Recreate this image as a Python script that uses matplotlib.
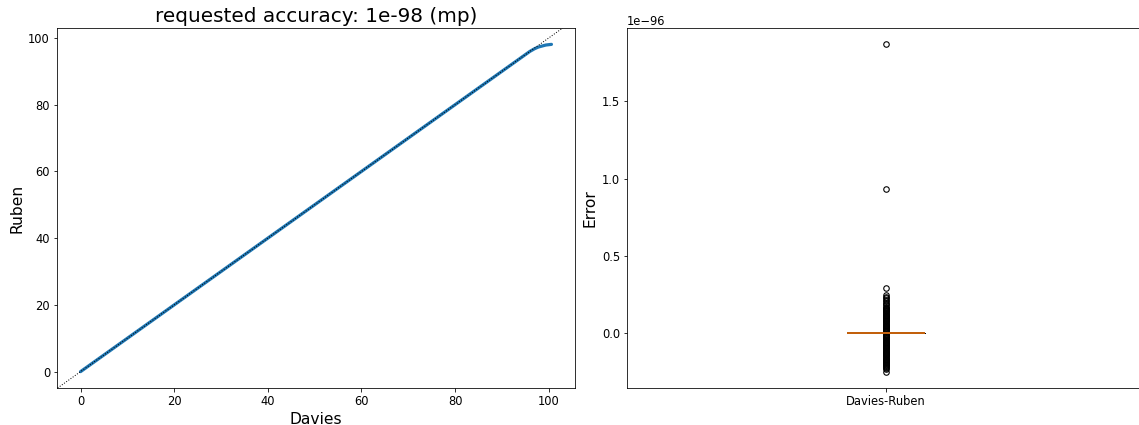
import matplotlib
matplotlib.use("Agg")
import matplotlib.pyplot as plt

# Quantiles from the two methods at the same probabilities
davies = [0, 2, 4, 6, 8, 10, 12, 14, 16, 18, 20, 22, 24, 26, 28, 30, 32, 34,
          36, 38, 40, 42, 44, 46, 48, 50, 52, 54, 56, 58, 60, 62, 64, 66, 68,
          70, 72, 74, 76, 78, 80, 82, 84, 86, 88, 90, 92, 94, 96, 97.0, 97.8,
          98.6, 99.4, 100.0, 100.6]
ruben = [0, 2, 4, 6, 8, 10, 12, 14, 16, 18, 20, 22, 24, 26, 28, 30, 32, 34,
         36, 38, 40, 42, 44, 46, 48, 50, 52, 54, 56, 58, 60, 62, 64, 66, 68,
         70, 72, 74, 76, 78, 80, 82, 84, 86, 88, 90, 92, 94, 96, 96.8, 97.3,
         97.6, 97.9, 98.0, 98.1]

# Differences Davies - Ruben (units of 1e-96); most are exactly zero
error_nonzero = [1.87, 0.935, 0.29, 0.245, 0.235, 0.225, 0.215, 0.205, 0.195,
                 0.185, 0.18, 0.17, 0.165, 0.16, 0.155, 0.15, 0.145, 0.14,
                 0.135, 0.13, 0.125, 0.12, 0.115, 0.11, 0.105, 0.10, 0.095,
                 0.09, 0.085, 0.08, 0.075, 0.07, 0.065, 0.06, 0.055, 0.05,
                 0.045, 0.04, 0.035, 0.03, 0.025, 0.02, 0.015, 0.01, 0.005,
                 -0.005, -0.01, -0.015, -0.02, -0.025, -0.03, -0.035, -0.04,
                 -0.045, -0.05, -0.055, -0.06, -0.065, -0.07, -0.075, -0.08,
                 -0.085, -0.09, -0.095, -0.10, -0.105, -0.11, -0.115, -0.12,
                 -0.125, -0.13, -0.135, -0.14, -0.145, -0.15, -0.155, -0.16,
                 -0.165, -0.17, -0.175, -0.18, -0.185, -0.19, -0.195, -0.20,
                 -0.205, -0.21, -0.215, -0.22, -0.225, -0.235, -0.25]
error_zero_count = 400
error_scale = 1e-96

errors = [v * error_scale for v in error_nonzero] + [0.0] * error_zero_count

fig = plt.figure(figsize=(1139 / 72, 425 / 72), dpi=72)
ax1 = fig.add_axes([57 / 1139, 37 / 425, 518 / 1139, 360 / 425])
ax2 = fig.add_axes([627 / 1139, 37 / 425, 518 / 1139, 360 / 425])

ax1.plot(davies, ruben, "-", color="#1f77b4", lw=3.2, solid_capstyle="round")
ax1.axline((0, 0), slope=1, color="black", ls=":", lw=1)
ax1.set_title("requested accuracy: 1e-98 (mp)", fontsize=20)
ax1.set_xlabel("Davies", fontsize=15.5)
ax1.set_ylabel("Ruben", fontsize=15.5)
ax1.tick_params(labelsize=11.5)

ax2.boxplot([errors], tick_labels=["Davies-Ruben"],
            medianprops=dict(color="#c2600c", lw=2),
            flierprops=dict(marker="o", markersize=5.5, markeredgewidth=1.1,
                            markeredgecolor="black", markerfacecolor="none"))
ax2.set_ylabel("Error", fontsize=15.5)
ax2.tick_params(labelsize=11.5)
ax2.yaxis.get_offset_text().set_fontsize(11.5)

fig.savefig("out.png", dpi=72)
